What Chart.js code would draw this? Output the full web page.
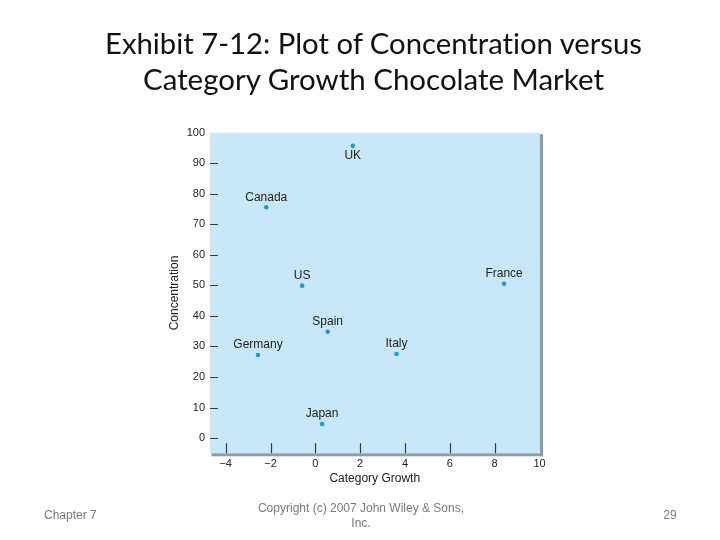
<!DOCTYPE html>
<html><head><meta charset="utf-8">
<script src="https://cdn.jsdelivr.net/npm/chart.js@4/dist/chart.umd.min.js"></script>
<style>
html,body{margin:0;padding:0;background:#fff;}
#wrap{position:relative;width:720px;height:540px;overflow:hidden;}
#c{position:absolute;left:0;top:0;}
#txt{position:absolute;left:0;top:0;pointer-events:none;}
#txt text{font-variant-ligatures:none;font-feature-settings:"liga" 0;}
</style></head><body>
<div id="wrap">
<canvas id="c" width="720" height="540"></canvas>
<svg id="txt" width="720" height="540" xmlns="http://www.w3.org/2000/svg">
  <text x="373.5" y="53.5" text-anchor="middle" font-family="Lato, 'Open Sans', sans-serif" font-size="28" fill="#111" textLength="537" lengthAdjust="spacingAndGlyphs">Exhibit 7-12: Plot of Concentration versus</text>
  <text x="373.5" y="89.5" text-anchor="middle" font-family="Lato, 'Open Sans', sans-serif" font-size="28" fill="#111" textLength="461" lengthAdjust="spacingAndGlyphs">Category Growth Chocolate Market</text>
  <text x="44" y="518.5" font-family="'Liberation Sans', Arial, sans-serif" font-size="12" fill="#7a7a7a">Chapter 7</text>
  <text x="361" y="512" text-anchor="middle" font-family="'Liberation Sans', Arial, sans-serif" font-size="12" fill="#7a7a7a">Copyright (c) 2007 John Wiley &amp; Sons,</text>
  <text x="361" y="526.5" text-anchor="middle" font-family="'Liberation Sans', Arial, sans-serif" font-size="12" fill="#7a7a7a">Inc.</text>
  <text x="670" y="518.5" text-anchor="middle" font-family="'Liberation Sans', Arial, sans-serif" font-size="12" fill="#7a7a7a">29</text>
</svg>
</div>
<script>
// ---- data ----
const countries = ['UK', 'Canada', 'US', 'France', 'Spain', 'Germany', 'Italy', 'Japan'];
const growth = [1.67, -2.19, -0.59, 8.42, 0.55, -2.56, 3.62, 0.30];
const concentration = [95.7, 75.6, 49.9, 50.5, 34.8, 27.2, 27.5, 4.6];
const xTickValues = [-4, -2, 0, 2, 4, 6, 8, 10];
const yTickValues = [0, 10, 20, 30, 40, 50, 60, 70, 80, 90, 100];
const xAxisTitle = 'Category Growth';
const yAxisTitle = 'Concentration';

Chart.defaults.font.family = "'Liberation Sans', Arial, sans-serif";

const plotBg = {
  id: 'plotBg',
  beforeDraw(chart) {
    const {ctx, chartArea: a} = chart;
    ctx.save();
    ctx.fillStyle = '#c8e7f8';
    ctx.fillRect(a.left, a.top, a.right - a.left + 0.5, a.bottom - a.top);
    ctx.fillStyle = '#8f9ca8';
    ctx.fillRect(a.right + 0.5, a.top + 1.5, 3, a.bottom - a.top + 1.5);
    ctx.fillRect(a.left + 1.5, a.bottom, a.right - a.left + 2, 3);
    ctx.restore();
  },
  beforeDatasetsDraw(chart) {
    const {ctx, chartArea: a, scales: {x, y}} = chart;
    ctx.save();
    ctx.strokeStyle = '#3a3a3a';
    ctx.lineWidth = 1.2;
    ctx.beginPath();
    y.ticks.forEach(t => {
      if (t.value >= y.max) return;
      const p = Math.round(y.getPixelForValue(t.value)) + 0.5;
      ctx.moveTo(a.left, p); ctx.lineTo(a.left + 8, p);
    });
    x.ticks.forEach(t => {
      if (t.value >= x.max) return;
      const p = Math.round(x.getPixelForValue(t.value)) + 0.5;
      ctx.moveTo(p, a.bottom); ctx.lineTo(p, a.bottom - 10);
    });
    ctx.stroke();
    ctx.restore();
  }
};

const pointLabels = {
  id: 'pointLabels',
  afterDatasetsDraw(chart, args, opts) {
    const {ctx} = chart;
    const meta = chart.getDatasetMeta(0);
    ctx.save();
    ctx.font = "12px 'Liberation Sans', Arial, sans-serif";
    ctx.fillStyle = '#222';
    ctx.textAlign = 'center';
    ctx.textBaseline = 'middle';
    meta.data.forEach((el, i) => {
      const name = countries[i];
      const dy = opts.below.includes(name) ? 10 : -10;
      ctx.fillText(name, el.x, el.y + dy);
    });
    ctx.restore();
  }
};

new Chart(document.getElementById('c'), {
  type: 'scatter',
  data: {
    datasets: [{
      data: growth.map((g, i) => ({x: g, y: concentration[i]})),
      pointRadius: 2.3,
      pointHoverRadius: 2.3,
      pointBackgroundColor: '#1e9bd2',
      pointBorderWidth: 0,
      borderWidth: 0
    }]
  },
  options: {
    responsive: false,
    animation: false,
    devicePixelRatio: 1,
    layout: { padding: { left: 160, top: 132.7, right: 180.5, bottom: 46.7 } },
    plugins: {
      legend: { display: false },
      tooltip: { enabled: false },
      pointLabels: { below: ['UK'] }
    },
    scales: {
      x: {
        type: 'linear',
        min: -4.7, max: 10,
        grid: { display: false, drawTicks: false },
        border: { display: false },
        afterBuildTicks: s => { s.ticks = xTickValues.map(v => ({value: v})); },
        afterFit: s => { s.height = 40; },
        ticks: {
          padding: 4.5,
          color: '#222',
          font: { size: 11 },
          maxRotation: 0,
          autoSkip: false,
          callback: v => (v < 0 ? '\u2212' + Math.abs(v) : String(v))
        },
        title: {
          display: true, text: xAxisTitle, color: '#222',
          font: { size: 12 }, padding: { top: 0, bottom: 7.4 }
        }
      },
      y: {
        type: 'linear',
        min: -5, max: 100,
        grid: { display: false, drawTicks: false },
        border: { display: false },
        afterBuildTicks: s => { s.ticks = yTickValues.map(v => ({value: v})); },
        afterFit: s => { s.width = 50; },
        ticks: { padding: 5, color: '#222', font: { size: 11 }, autoSkip: false },
        title: {
          display: true, text: yAxisTitle, color: '#222',
          font: { size: 12 }, padding: { top: 7.8, bottom: 0 }
        }
      }
    }
  },
  plugins: [plotBg, pointLabels]
});
</script>
</body></html>
